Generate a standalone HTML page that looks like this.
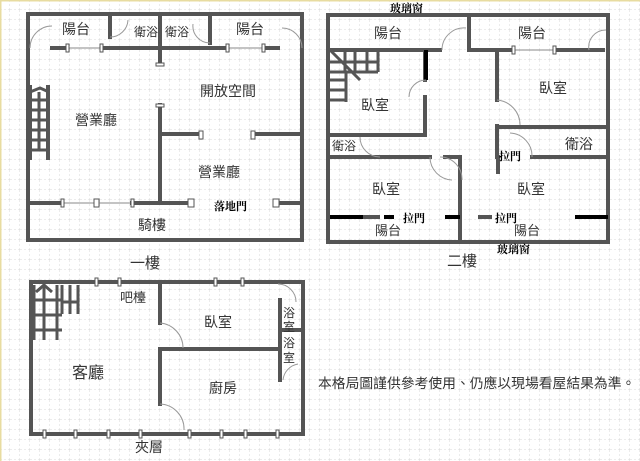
<!DOCTYPE html>
<html><head><meta charset="utf-8"><style>
html,body{margin:0;padding:0;background:#fff;}
svg{display:block;}
text{font-family:"Liberation Sans","Noto Sans CJK TC",sans-serif;fill:#333;}
.s{font-family:"Liberation Serif","Noto Serif CJK SC",serif;fill:#000;font-weight:bold;}
</style></head><body>
<svg width="640" height="461" viewBox="0 0 640 461" xmlns="http://www.w3.org/2000/svg">
<defs>
<pattern id="g" width="10" height="10" patternUnits="userSpaceOnUse">
<path d="M10 0V10M0 10H10" stroke="#d8d8d8" stroke-width="1" stroke-dasharray="2,2" fill="none"/>
</pattern>
</defs>
<rect width="640" height="461" fill="#fff"/>
<rect width="640" height="461" fill="url(#g)"/>
<rect x="0" y="0" width="640" height="1.5" fill="#e8dca0"/>
<rect x="0" y="0" width="1.5" height="461" fill="#e8dca0"/>
<g stroke="#888" stroke-width="1">
<path d="M66 48H102M226 48H264M62 203H132M512 50H556M43 434H276M95 282H241"/>
</g>
<g stroke="#555" stroke-width="4" fill="none" stroke-linecap="square">
<!-- floor 1 -->
<rect x="28" y="14" width="274" height="226"/>
<path d="M52 48H66M102 48H226M264 48H278M110 15V37M210 15V43M160 15V62M160 105V203M160 134H200M254 134H302M30 203H62M132 203H188M279 203H302"/>
<path d="M30 87V158M48 87V158" />
<!-- floor 2 -->
<rect x="328" y="15" width="280" height="227"/>
<path d="M330 50H440M469 15V50M469 50H512M556 50H603M497 50V100M497 126V157M497 127H606M498 157V172M532 157H606M425 50V80M425 97V135M330 135H425M330 157H430M445 157H460M460 157V242M330 217H378M480 217H490"/>
<!-- floor 3 -->
<rect x="31" y="282" width="272" height="152"/>
<path d="M160 284V323M160 349H280M160 349V404M280 300V380M280 330H302"/>
</g>
<g stroke="#000" stroke-width="4">
<path d="M426 50V80M330 217H363M445 217H460M384 217H394M575 217H608"/>
</g>
<!-- stairs -->
<g stroke="#555" stroke-width="3" fill="none">
<path d="M30 92L40 88L49 92M30 100H48M30 110H48M30 120H48M30 130H48M30 140H48M30 150H48M39 92V150"/>
<path d="M330 50L360 80M330 62H378M330 72H378M345 52V72M355 52V72M367 52V72M330 80H346M330 90H346M330 100H346M346 72V102M378 52V72"/>
<path d="M34 285V340M36 292L44 285L52 292M34 300H62M34 315H62M34 330H62M44 285V340M57 285V340M62 285V314M70 285V314M78 285V314M62 302H78"/>
</g>
<!-- doors arcs -->
<g stroke="#999" stroke-width="1" fill="none">
<path d="M30 48A22 22 0 0 1 52 26M302 48A20 20 0 0 0 282 28M110 37A18 18 0 0 0 128 20M210 43A17 17 0 0 1 193 24"/>
<path d="M442 50A22 22 0 0 1 466 28M589 50A17 17 0 0 1 606 30M426 80A17 17 0 0 0 409 97M497 100A25 25 0 0 1 520 125M380 157A20 20 0 0 1 360 137M532 157A23 23 0 0 0 510 133M430 157A23 23 0 0 0 452 180M440 157A22 22 0 0 1 462 180"/>
<path d="M160 323A25 25 0 0 1 183 348M160 404A25 25 0 0 1 184 430M278 284A18 18 0 0 1 296 302M283 380A18 18 0 0 1 298 364"/>
</g>
<!-- window markers -->
<g fill="#fff" stroke="#555" stroke-width="1">
<rect x="66" y="44" width="3" height="8"/><rect x="100" y="44" width="3" height="8"/>
<rect x="226" y="44" width="3" height="8"/><rect x="262" y="44" width="3" height="8"/>
<rect x="156" y="63" width="8" height="3"/><rect x="156" y="104" width="8" height="3"/>
<rect x="199" y="131" width="4" height="8"/><rect x="251" y="131" width="4" height="8"/>
<rect x="61" y="199" width="3" height="8"/><rect x="94" y="199" width="5" height="8"/><rect x="131" y="199" width="3" height="8"/>
<rect x="188" y="199" width="6" height="8"/><rect x="273" y="199" width="6" height="8"/>
<rect x="512" y="46" width="3" height="8"/><rect x="553" y="46" width="3" height="8"/>
<rect x="95" y="278" width="3" height="8"/><rect x="118" y="278" width="3" height="8"/>
<rect x="214" y="278" width="3" height="8"/><rect x="241" y="278" width="3" height="8"/>
<rect x="43" y="430" width="3" height="8"/><rect x="74" y="430" width="3" height="8"/><rect x="107" y="430" width="3" height="8"/><rect x="139" y="430" width="3" height="8"/><rect x="188" y="430" width="3" height="8"/><rect x="220" y="430" width="3" height="8"/><rect x="244" y="430" width="3" height="8"/><rect x="276" y="430" width="3" height="8"/>
</g>
<g font-size="14">
<text x="62" y="34">陽台</text><text x="236" y="34">陽台</text>
<text x="134" y="36" font-size="12">衛浴</text><text x="165" y="36" font-size="12">衛浴</text>
<text x="200" y="96">開放空間</text><text x="75" y="125">營業廳</text><text x="198" y="177">營業廳</text>
<text x="138" y="230">騎樓</text><text x="130" y="268" font-size="15">一樓</text>
<text x="374" y="38">陽台</text><text x="518" y="38">陽台</text>
<text x="361" y="110">臥室</text><text x="539" y="93">臥室</text>
<text x="332" y="150" font-size="12">衛浴</text><text x="565" y="149">衛浴</text>
<text x="372" y="194">臥室</text><text x="517" y="194">臥室</text>
<text x="375" y="235" font-size="13">陽台</text><text x="514" y="235" font-size="13">陽台</text>
<text x="447" y="266" font-size="15">二樓</text>
<text x="120" y="302" font-size="13">吧檯</text><text x="204" y="327">臥室</text>
<text x="283" y="317" font-size="12">浴</text><text x="283" y="331" font-size="12">室</text>
<text x="283" y="347" font-size="12">浴</text><text x="283" y="362" font-size="12">室</text>
<text x="72" y="378" font-size="16">客廳</text><text x="209" y="393">廚房</text>
<text x="135" y="452">夾層</text>
<text x="318" y="388" font-size="13.8">本格局圖謹供參考使用、仍應以現場看屋結果為準。</text>
</g>
<g class="s" font-size="11">
<text class="s" x="214" y="210">落地門</text>
<text class="s" x="390" y="12">玻璃窗</text>
<text class="s" x="499" y="160">拉門</text>
<text class="s" x="403" y="222">拉門</text>
<text class="s" x="495" y="222">拉門</text>
<text class="s" x="497" y="253">玻璃窗</text>
</g>
</svg>
</body></html>
